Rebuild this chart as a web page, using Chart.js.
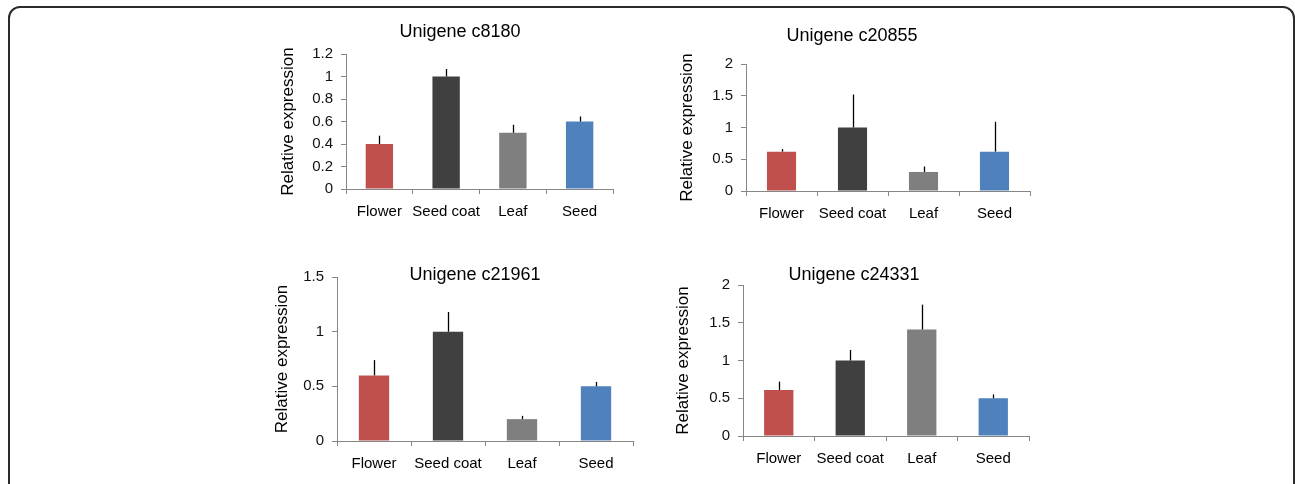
<!DOCTYPE html>
<html>
<head>
<meta charset="utf-8">
<title>Relative expression of four unigenes</title>
<script src="https://cdn.jsdelivr.net/npm/chart.js@4.4.0/dist/chart.umd.min.js"></script>
<style>
  body { margin: 0; background: #fff; width: 1295px; height: 484px; overflow: hidden; position: relative; }
  .frame { position: absolute; left: 8px; top: 6px; width: 1283px; height: 520px; border: 2px solid #2b2b2b; border-radius: 12px; }
  canvas { position: absolute; }
</style>
</head>
<body>
<div class="frame"></div>
<canvas id="chart_c8180"></canvas>
<canvas id="chart_c20855"></canvas>
<canvas id="chart_c21961"></canvas>
<canvas id="chart_c24331"></canvas>

<script>
// tissues and bar colours (same for every panel)
const categories = ['Flower', 'Seed coat', 'Leaf', 'Seed'];
const barColors = ['#C0504D', '#404040', '#7F7F7F', '#4F81BD'];

// relative expression + upper error
const c8180_values = [0.40, 1.00, 0.50, 0.60];
const c8180_errors = [0.074, 0.067, 0.071, 0.045];

const c20855_values = [0.62, 1.00, 0.30, 0.62];
const c20855_errors = [0.04, 0.52, 0.085, 0.47];

const c21961_values = [0.60, 1.00, 0.20, 0.50];
const c21961_errors = [0.14, 0.18, 0.03, 0.04];

const c24331_values = [0.61, 1.00, 1.41, 0.50];
const c24331_errors = [0.11, 0.14, 0.33, 0.05];

// y axis ranges
const c8180_yAxis = { max: 1.2, step: 0.2 };
const c20855_yAxis = { max: 2, step: 0.5 };
const c21961_yAxis = { max: 1.5, step: 0.5 };
const c24331_yAxis = { max: 2, step: 0.5 };

const FONT = '"Liberation Sans", Arial, sans-serif';
const AXIS_GREY = '#868686';

// draws only the upper whisker, like the original Excel figure
const errorBarPlugin = {
  id: 'errorBars',
  afterDatasetsDraw(chart) {
    const ctx = chart.ctx;
    const yScale = chart.scales.y;
    const ds = chart.data.datasets[0];
    const meta = chart.getDatasetMeta(0);
    ctx.save();
    ctx.strokeStyle = '#000';
    ctx.lineWidth = 1.3;
    meta.data.forEach((bar, i) => {
      const top = yScale.getPixelForValue(ds.data[i] + ds.errors[i]);
      const x = Math.round(bar.x) + 0.5;
      ctx.beginPath();
      ctx.moveTo(x, bar.y);
      ctx.lineTo(x, top);
      ctx.stroke();
    });
    ctx.restore();
  }
};

// panel title, placed freely (it overlaps the plot area in the lower panels)
const panelTitlePlugin = {
  id: 'panelTitle',
  afterDraw(chart, args, opts) {
    const ctx = chart.ctx;
    ctx.save();
    ctx.font = '18px ' + FONT;
    ctx.fillStyle = '#000';
    ctx.textAlign = 'center';
    ctx.textBaseline = 'alphabetic';
    ctx.fillText(opts.text, opts.x, opts.y);
    ctx.restore();
  }
};

const Y_W = 80, PAD_TOP = 50, PAD_RIGHT = 20, X_H = 40;

function buildPanel(canvasId, title, values, errors, yAxis, layout) {
  const canvas = document.getElementById(canvasId);
  const left = layout.plot[0] - Y_W;
  const top = layout.plot[1] - PAD_TOP;
  const width = layout.plot[2] - layout.plot[0] + Y_W + PAD_RIGHT;
  const height = layout.plot[3] - layout.plot[1] + PAD_TOP + X_H;
  canvas.style.left = left + 'px';
  canvas.style.top = top + 'px';
  canvas.width = width;
  canvas.height = height;

  return new Chart(canvas.getContext('2d'), {
    type: 'bar',
    data: {
      labels: categories,
      datasets: [{
        data: values,
        errors: errors,
        backgroundColor: barColors,
        borderWidth: 0,
        categoryPercentage: 1,
        barPercentage: 0.41
      }]
    },
    options: {
      responsive: false,
      animation: false,
      devicePixelRatio: 1,
      layout: { padding: { top: PAD_TOP, right: PAD_RIGHT, left: 0, bottom: 0 } },
      plugins: {
        legend: { display: false },
        tooltip: { enabled: false },
        panelTitle: { text: title, x: layout.title[0] - left, y: layout.title[1] - top }
      },
      scales: {
        x: {
          offset: true,
          grid: { offset: true, drawOnChartArea: false, drawTicks: true, tickLength: 5, color: AXIS_GREY },
          border: { color: AXIS_GREY, width: 1 },
          ticks: { color: '#000', font: { family: FONT, size: 15 }, padding: 9, maxRotation: 0, autoSkip: false },
          afterFit: scale => { scale.height = X_H; }
        },
        y: {
          min: 0,
          max: yAxis.max,
          grid: { drawOnChartArea: false, drawTicks: true, tickLength: 5, color: AXIS_GREY },
          border: { color: AXIS_GREY, width: 1 },
          ticks: {
            stepSize: yAxis.step,
            color: '#111',
            font: { family: FONT, size: 15 },
            padding: 8,
            callback: v => String(Math.round(v * 10) / 10)
          },
          title: {
            display: true,
            text: 'Relative expression',
            color: '#000',
            font: { family: FONT, size: 17 },
            padding: { top: layout.yTitlePad, bottom: 0 }
          },
          afterFit: scale => { scale.width = Y_W; }
        }
      }
    },
    plugins: [errorBarPlugin, panelTitlePlugin]
  });
}

// page positions: plot box [left, top, right, bottom], title centre/baseline
buildPanel('chart_c8180', 'Unigene c8180', c8180_values, c8180_errors, c8180_yAxis,
  { plot: [346, 54, 613, 189], title: [460, 37], yTitlePad: 12.3 });
buildPanel('chart_c20855', 'Unigene c20855', c20855_values, c20855_errors, c20855_yAxis,
  { plot: [746, 64, 1030, 191], title: [852, 41], yTitlePad: 11.3 });
buildPanel('chart_c21961', 'Unigene c21961', c21961_values, c21961_errors, c21961_yAxis,
  { plot: [337, 277, 633, 441], title: [475, 280], yTitlePad: 14.8 });
buildPanel('chart_c24331', 'Unigene c24331', c24331_values, c24331_errors, c24331_yAxis,
  { plot: [743, 285, 1029, 436], title: [854, 280], yTitlePad: 10.5 });
</script>
</body>
</html>
